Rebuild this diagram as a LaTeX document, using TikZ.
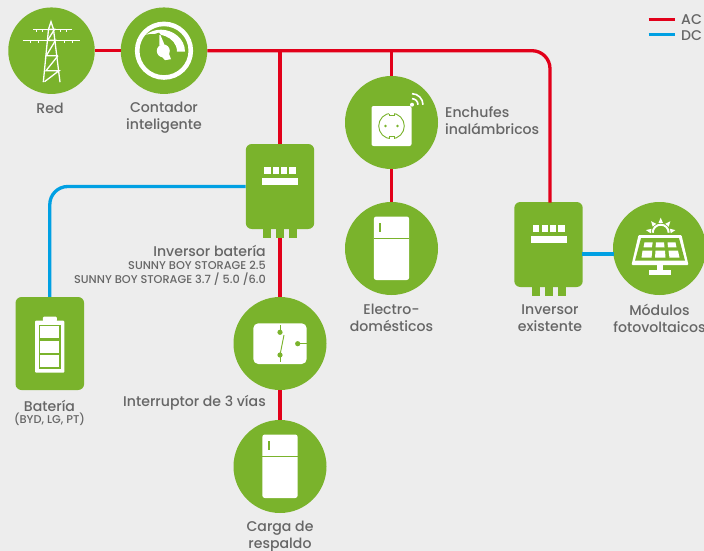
\documentclass[tikz,border=0pt]{standalone}
\usepackage{fontspec}
\usetikzlibrary{calc}
\setmainfont{Poppins Medium}
\definecolor{solargreen}{HTML}{7AB32C}
\definecolor{acred}{HTML}{E2001A}
\definecolor{dcblue}{HTML}{00A0E3}
\definecolor{txtgray}{HTML}{666666}
\definecolor{paper}{HTML}{EDEDED}
\tikzset{
 greencircle/.style={circle,fill=solargreen,minimum size=93pt,inner sep=0pt},
 smallcircle/.style={greencircle,minimum size=86.5pt},
 inversorbox/.style={rectangle,fill=solargreen,rounded corners=6pt,minimum width=68.4pt,minimum height=85pt,inner sep=0pt},
 batterybox/.style={rectangle,fill=solargreen,rounded corners=6pt,minimum width=68.6pt,minimum height=93pt,inner sep=0pt},
 footbox/.style={rectangle,fill=solargreen,minimum width=8pt,minimum height=9pt,inner sep=0pt},
 acline/.style={draw=acred,line width=3.3pt},
 dcline/.style={draw=dcblue,line width=3.3pt},
 txt/.style={text=txtgray,font=\fontsize{14.1}{16.8}\selectfont,align=center,inner sep=0pt},
 txtsmall/.style={text=txtgray,font=\fontsize{11.3}{13}\selectfont,align=center,inner sep=0pt},
}
% inverter: box, three feet and the key panel
\newcommand{\inversor}[3]{
 \node[inversorbox] (#1) at (#2,#3) {};
 \node[footbox] (#1footl) at (#2-13,#3+47) {};
 \node[footbox] (#1foot) at (#2,#3+47) {};
 \node[footbox] (#1footr) at (#2+13,#3+47) {};
 \begin{scope}[shift={(#2,#3)}]
  \fill[white] (-16,-19.5) rectangle (-9.3,-12.5);
  \fill[white] (-7,-19.5) rectangle (-0.7,-12.5);
  \fill[white] (1.2,-19.5) rectangle (7.3,-12.5);
  \fill[white] (9,-19.5) rectangle (16,-12.5);
  \fill[white] (-18,-8.5) rectangle (18,-1.8);
 \end{scope}
}
\newcommand{\fridgeicon}[2]{
 \begin{scope}[shift={(#1,#2)}]
  \fill[white,rounded corners=2.5pt] (-17.7,-32) rectangle (17.7,31.5);
  \fill[solargreen] (-17.7,-11) rectangle (17.7,-9.4);
  \fill[solargreen] (-12.3,-26) rectangle (-10.5,-16.3);
 \end{scope}
}
\begin{document}
\begin{tikzpicture}[x=1pt,y=-1pt]
\useasboundingbox (0,0) rectangle (704,551);
\clip (0,0) rectangle (704,551);
\fill[paper] (0,0) rectangle (704,551);

\node[smallcircle] (red) at (51.5,50.7) {};
\node[smallcircle] (contador) at (164,50.7) {};
\node[greencircle] (enchufes) at (391.5,122.5) {};
\node[greencircle] (electro) at (391.5,248.5) {};
\node[greencircle] (modulos) at (659.5,248.5) {};
\node[greencircle] (interruptor) at (280,343.5) {};
\node[greencircle] (carga) at (280,466.5) {};
\node[batterybox] (bateria) at (49.8,343.5) {};
\inversor{inversorbat}{280}{186.5}
\inversor{inversorexist}{548.5}{244.5}

\coordinate (tapbat) at (280,50.7);
\coordinate (tapenchufes) at (391.5,50.7);
\coordinate (existin) at (550,202.5);
\coordinate (dcout) at (582,254);
\coordinate (dcin) at (614,254);

\draw[acline] (red) -- (contador);
\draw[acline,rounded corners=18pt] (contador.east) -| (existin);
\draw[acline] (tapbat) -- (inversorbat.north);
\draw[acline] (tapenchufes) -- (enchufes.north);
\draw[acline] (enchufes) -- (electro);
\draw[acline] (inversorbatfoot.south) -- (interruptor.north);
\draw[acline] (interruptor) -- (carga);
\draw[dcline,rounded corners=18pt] (bateria.north) |- (inversorbat.west);
\draw[dcline] (dcout) -- (dcin);

% tower
\begin{scope}[shift={(51.5,50.7)},white,line width=1.3pt]
 \draw (-8.2,31.5) -- (-3,-21.5) -- (-0.5,-29) -- (2,-21.5) -- (8.5,31.5);
 \draw (-5.2,5) -- (6,5);
 \draw (-5.5,20) -- (6.5,5) -- (-5.5,20) -- (7.5,20) -- (-7,31);
 \draw (-4,-10.3) -- (4,-10.3) -- (-5.2,5) -- (6,5);
 \draw (-3,-21.3) -- (3,-21.3) -- (-4,-10.3);
 \draw (-18.5,-21.3) -- (20,-21.3);
 \draw (-28.8,-10.3) -- (28.5,-10.3);
 \foreach \xa in {-15,-9,9,15} \draw[line width=.8pt] (\xa,-21.3) -- (\xa,-18.5);
 \foreach \xa in {-21,-13,13,21} \draw[line width=.8pt] (\xa,-10.3) -- (\xa,-7.5);
\end{scope}

% meter
\begin{scope}[shift={(164,50.7)}]
 \draw[white,line width=4.6pt] (0,0) circle (26.8);
 \fill[white] (21,1) .. controls (21,-12) and (9,-21) .. (-3,-21) .. controls (-9,-21) and (-14,-19) .. (-18,-16)
  .. controls (-8,-19) and (13,-15) .. (13,1) -- cycle;
 \fill[solargreen] (-18,-14) -- (-5,-18) -- (-2,-14) -- (-2,-8) -- (-8,-8) -- cycle;
 \fill[white] (-0.7,0.2) circle (6.5);
 \fill[white] (-4.7,-15.5) -- (-3.5,-15.5) -- (0.5,-6) -- (-4.5,-5) -- cycle;
 \fill[white] (-3,5) -- (5,3) -- (7,8.5) -- (1,9.5) -- cycle;
\end{scope}

% socket with signal
\begin{scope}[shift={(391.5,126)}]
 \fill[white,rounded corners=2pt] (-20,-20) rectangle (20,20);
 \draw[solargreen,line width=.9pt] (0,0) circle (12.8);
 \fill[white] (-2.5,-14) rectangle (2.5,-11);
 \fill[white] (-2.5,11) rectangle (2.5,14);
 \draw[solargreen,line width=.8pt] (-2.5,-12.5) -- (-2.5,-10.5) -- (2.5,-10.5) -- (2.5,-12.5);
 \draw[solargreen,line width=.8pt] (-2.5,12.5) -- (-2.5,10.5) -- (2.5,10.5) -- (2.5,12.5);
 \fill[solargreen] (-6,0) circle (1.4);
 \fill[solargreen] (6,0) circle (1.4);
 \fill[white] (20.5,-21.3) circle (2);
 \draw[white,line width=1.6pt] (26.5,-21.3) arc (0:-90:6);
 \draw[white,line width=1.6pt] (31.5,-21.3) arc (0:-90:11);
\end{scope}

\fridgeicon{391.5}{248.5}
\fridgeicon{280}{466.5}

% solar panel
\begin{scope}[shift={(659.5,248.5)}]
 \draw[white,line width=2pt] (1.2,-15.8) ++(-8,0) arc (180:360:8);
 \foreach \ang in {-170,-130,-90,-50,-10}
  \fill[white] ($(1.2,-15.8)+(\ang-13:10)$) -- ($(1.2,-15.8)+(\ang:15)$) -- ($(1.2,-15.8)+(\ang+13:10)$) -- cycle;
 \fill[white,rounded corners=1pt] (-21,-13.5) -- (22,-13.5) -- (29,16.5) -- (-28,16.5) -- cycle;
 \fill[solargreen] (-18.5,-10.3) -- (19.5,-10.3) -- (25.5,12.2) -- (-24.5,12.2) -- cycle;
 \fill[white] (-15,-6.2) -- (-6.8,-6.2) -- (-7.6,-1.2) -- (-16,-1.2) -- cycle;
 \fill[white] (-3.5,-6.2) -- (4.5,-6.2) -- (5,-1.2) -- (-3.9,-1.2) -- cycle;
 \fill[white] (8,-6.2) -- (16,-6.2) -- (17,-1.2) -- (8.5,-1.2) -- cycle;
 \fill[white] (-17,2.2) -- (-7.2,2.2) -- (-8,9.2) -- (-18,9.2) -- cycle;
 \fill[white] (-4,2.2) -- (5.5,2.2) -- (6,9.2) -- (-4.5,9.2) -- cycle;
 \fill[white] (9,2.2) -- (18.5,2.2) -- (20,9.2) -- (10,9.2) -- cycle;
 \fill[white] (-2.5,16) rectangle (3.8,21.5);
 \fill[white] (-10.5,21.5) rectangle (11.5,26.5);
\end{scope}

% battery
\begin{scope}[shift={(49.8,343.5)}]
 \fill[white,rounded corners=1pt] (-14.8,-22.8) rectangle (14.5,29.2);
 \fill[white,rounded corners=1pt] (-7,-26.8) rectangle (7,-22);
 \fill[solargreen] (-11,-18.8) rectangle (11,25.2);
 \fill[white] (-9.8,-17.5) rectangle (9.5,-5.2);
 \fill[white] (-9.8,-2.5) rectangle (9.5,9.2);
 \fill[white] (-9.8,11.8) rectangle (9.5,23.8);
\end{scope}

% three way switch
\begin{scope}[shift={(280,343.5)}]
 \fill[white,rounded corners=5pt] (-26.7,-20.2) rectangle (26.7,20.5);
 \draw[solargreen,line width=.9pt] (0,-18.5) -- (0,-11.2);
 \draw[solargreen,line width=.9pt] (0,11.5) -- (0,18.5);
 \draw[solargreen,line width=.9pt] (4,-8.5) -- (0,11.5);
 \draw[solargreen,line width=.9pt] (17.7,0.2) -- (26.7,0.2);
 \fill[solargreen] (0,-11.2) circle (2.6);
 \fill[solargreen] (0,11.5) circle (2.6);
 \fill[solargreen] (17.7,0.2) circle (2.6);
\end{scope}

\node[txt] (redtxt) at (50,108.5) {Red};
\node[txt] (contadortxt) at (164,117.5) {Contador\\inteligente};
\node[txt,anchor=west,align=left] (enchufestxt) at (445,121) {Enchufes\\inalámbricos};
\node[txt] (electrotxt) at (391.5,318) {Electro-\\domésticos};
\node[txt] (existtxt) at (550,318) {Inversor\\existente};
\node[txt] (modulostxt) at (659.5,318) {Módulos\\fotovoltaicos};
\node[txt,anchor=east] (inversortxt) at (266,250.5) {Inversor batería};
\node[txtsmall,anchor=east] (sunnya) at (266,265.5) {SUNNY BOY STORAGE 2.5};
\node[txtsmall,anchor=east] (sunnyb) at (266,279) {SUNNY BOY STORAGE 3.7 / 5.0 /6.0};
\node[txt,anchor=east] (interruptortxt) at (266,402.5) {Interruptor de 3 vías};
\node[txt] (bateriatxt) at (49.5,405.5) {Batería};
\node[txtsmall] (bateriasub) at (49.5,419.5) {(BYD, LG, PT)};
\node[txt] (cargatxt) at (280,536.5) {Carga de\\respaldo};

\coordinate (acleft) at (648.5,20);
\coordinate (acright) at (674.5,20);
\coordinate (dcleft) at (648.5,35);
\coordinate (dcright) at (674.5,35);
\draw[acred,line width=3pt] (acleft) -- (acright);
\draw[dcblue,line width=3pt] (dcleft) -- (dcright);
\node[txt,anchor=west] (actxt) at (681,19.5) {AC};
\node[txt,anchor=west] (dctxt) at (681,36) {DC};
\end{tikzpicture}
\end{document}
